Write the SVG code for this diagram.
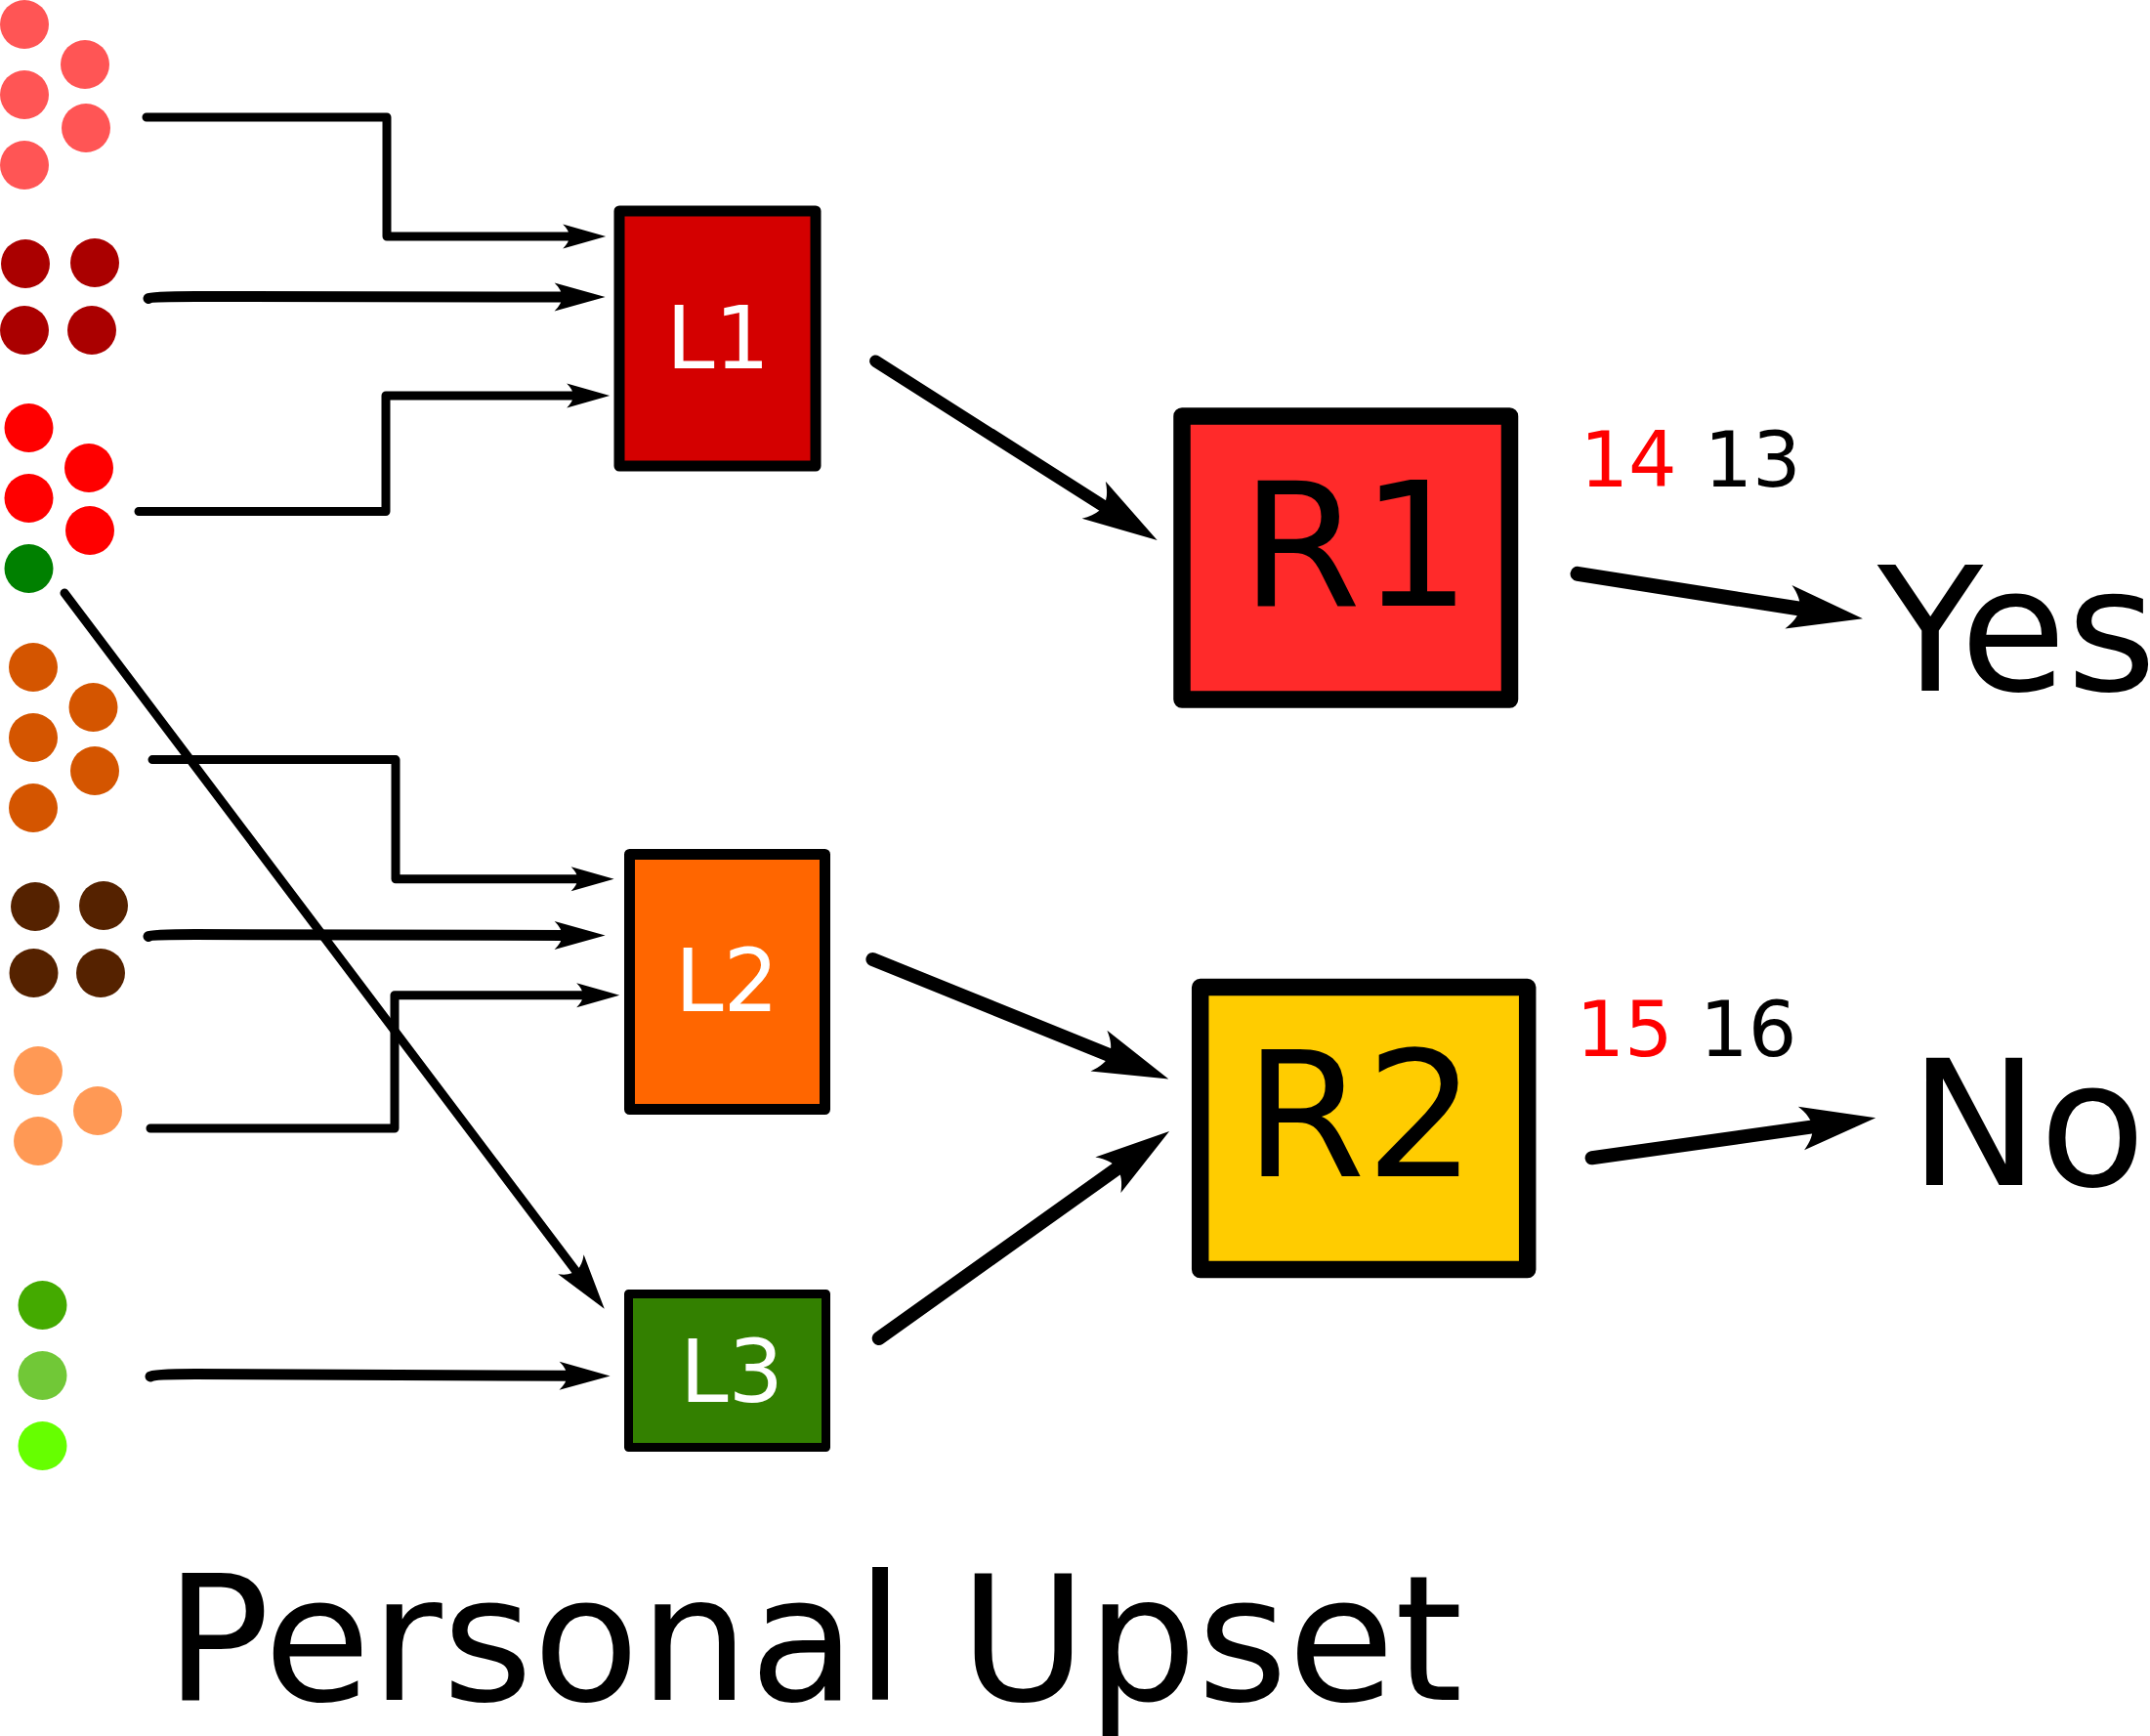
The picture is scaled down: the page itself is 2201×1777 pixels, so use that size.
<svg xmlns="http://www.w3.org/2000/svg" width="2201" height="1777" viewBox="0 0 2201 1777">
<style>
.t{font-family:"DejaVu Sans","Liberation Sans",sans-serif}
.box{stroke:#000;stroke-linejoin:round}
.c{fill:none;stroke:#000;stroke-linecap:round;stroke-linejoin:round}
.thin{stroke-width:9}
.mid{stroke-width:11}
.thick{stroke-width:14}
</style>
<defs>
<marker id="aS" viewBox="-1 -0.5 1 1" refX="-0.8" refY="0" markerWidth="44" markerHeight="25" markerUnits="userSpaceOnUse" orient="auto" preserveAspectRatio="none" overflow="visible"><path d="M0,0 L-1,-0.5 C-0.8,-0.15 -0.8,0.15 -1,0.5 Z" fill="#000"/></marker>
<marker id="aM" viewBox="-1 -0.5 1 1" refX="-0.8" refY="0" markerWidth="52" markerHeight="29" markerUnits="userSpaceOnUse" orient="auto" preserveAspectRatio="none" overflow="visible"><path d="M0,0 L-1,-0.5 C-0.8,-0.15 -0.8,0.15 -1,0.5 Z" fill="#000"/></marker>
<marker id="aD" viewBox="-1 -0.5 1 1" refX="-0.8" refY="0" markerWidth="57" markerHeight="33" markerUnits="userSpaceOnUse" orient="auto" preserveAspectRatio="none" overflow="visible"><path d="M0,0 L-1,-0.5 C-0.8,-0.15 -0.8,0.15 -1,0.5 Z" fill="#000"/></marker>
<marker id="aL" viewBox="-1 -0.5 1 1" refX="-0.8" refY="0" markerWidth="77" markerHeight="45" markerUnits="userSpaceOnUse" orient="auto" preserveAspectRatio="none" overflow="visible"><path d="M0,0 L-1,-0.5 C-0.8,-0.15 -0.8,0.15 -1,0.5 Z" fill="#000"/></marker>
</defs>
<rect width="2201" height="1777" fill="#fff"/>
<g id="dots">
<g fill="#ff5555"><circle cx="25" cy="25" r="25"/><circle cx="87" cy="66" r="25"/><circle cx="25" cy="97" r="25"/><circle cx="88" cy="131" r="25"/><circle cx="25" cy="169" r="25"/></g>
<g fill="#aa0000"><circle cx="26" cy="270" r="25"/><circle cx="97" cy="269" r="25"/><circle cx="25" cy="338" r="25"/><circle cx="94" cy="338" r="25"/></g>
<g fill="#ff0000"><circle cx="29.5" cy="438" r="25"/><circle cx="91" cy="479" r="25"/><circle cx="29.5" cy="510" r="25"/><circle cx="92" cy="543" r="25"/></g>
<circle cx="29.5" cy="582" r="25" fill="#008000"/>
<g fill="#d45500"><circle cx="34" cy="683" r="25"/><circle cx="95.5" cy="724" r="25"/><circle cx="34" cy="755" r="25"/><circle cx="97" cy="789" r="25"/><circle cx="34" cy="827" r="25"/></g>
<g fill="#552200"><circle cx="36" cy="928" r="25"/><circle cx="106" cy="927" r="25"/><circle cx="34.5" cy="996" r="25"/><circle cx="103" cy="996" r="25"/></g>
<g fill="#ff9955"><circle cx="39" cy="1096" r="25"/><circle cx="100" cy="1137" r="25"/><circle cx="39" cy="1168" r="25"/></g>
<circle cx="43.5" cy="1336" r="25" fill="#44aa00"/>
<circle cx="43.5" cy="1408" r="25" fill="#71c837"/>
<circle cx="43.5" cy="1480" r="25" fill="#66ff00"/>
</g>
<g id="connectors">
<path class="c thin" d="M150,120 H396 V242 H585" marker-end="url(#aS)"/>
<path class="c mid" d="M152,305.5 Q155,303.5 200,303.5 L578,304" marker-end="url(#aM)"/>
<path class="c thin" d="M142,523.5 H395 V405 H589" marker-end="url(#aS)"/>
<path class="c thin" d="M66,607 L591.3,1303.4" marker-end="url(#aD)"/>
<path class="c thin" d="M156,777.6 H405 V899.7 H593.4" marker-end="url(#aS)"/>
<path class="c mid" d="M152,958.5 Q155,956.5 200,956.5 L578,957.4" marker-end="url(#aM)"/>
<path class="c thin" d="M154,1155 H404 V1018.7 H599" marker-end="url(#aS)"/>
<path class="c mid" d="M154,1409 Q157,1406.5 200,1406.5 L583,1408.3" marker-end="url(#aM)"/>
<path class="c" stroke-width="12.5" d="M896.4,369.7 L1132.7,520" marker-end="url(#aL)"/>
<path class="c" stroke-width="15" d="M1615,587.3 L1846.1,623.7" marker-end="url(#aL)"/>
<path class="c thick" d="M893.4,982 L1139.2,1081.4" marker-end="url(#aL)"/>
<path class="c thick" d="M899.7,1370 L1146.9,1193.8" marker-end="url(#aL)"/>
<path class="c thick" d="M1629.6,1185.3 L1859.2,1152.9" marker-end="url(#aL)"/>
</g>
<g id="L1">
<rect class="box" x="634" y="216" width="201" height="261" fill="#d40000" stroke-width="11"/>
<text class="t" x="735" y="377" font-size="89" fill="#fff" text-anchor="middle">L1</text>
</g>
<g id="L2">
<rect class="box" x="644.5" y="874.5" width="200" height="261" fill="#ff6600" stroke-width="11"/>
<text class="t" x="744" y="1034.5" font-size="89" fill="#fff" text-anchor="middle">L2</text>
</g>
<g id="L3">
<rect class="box" x="643.5" y="1324.5" width="202" height="157" fill="#338000" stroke-width="9"/>
<text class="t" x="749" y="1435" font-size="89" fill="#fff" text-anchor="middle">L3</text>
</g>
<g id="R1">
<rect class="box" x="1210" y="426" width="335.5" height="290" fill="#ff2a2a" stroke-width="17.5"/>
<text class="t" x="1388" y="619.5" font-size="177" fill="#000" text-anchor="middle">R1</text>
</g>
<g id="R2">
<rect class="box" x="1228.7" y="1010.6" width="335" height="289" fill="#ffcc00" stroke-width="17.5"/>
<text class="t" x="1392.5" y="1203.5" font-size="178" fill="#000" text-anchor="middle">R2</text>
</g>
<g id="counts">
<text class="t" y="497.7" font-size="78"><tspan x="1617.4" fill="#ff0000">14</tspan><tspan x="1744.4" fill="#000">13</tspan></text>
<text class="t" y="1080.7" font-size="78"><tspan x="1613.4" fill="#ff0000">15</tspan><tspan x="1740" fill="#000">16</tspan></text>
</g>
<g id="Yes"><text class="t" x="1922" y="706.7" font-size="177" fill="#000">Yes</text></g>
<g id="No"><text class="t" x="1954.5" y="1213.3" font-size="178" fill="#000">No</text></g>
<g id="title"><text class="t" x="169" y="1740" font-size="178" fill="#000">Personal Upset</text></g>
</svg>
